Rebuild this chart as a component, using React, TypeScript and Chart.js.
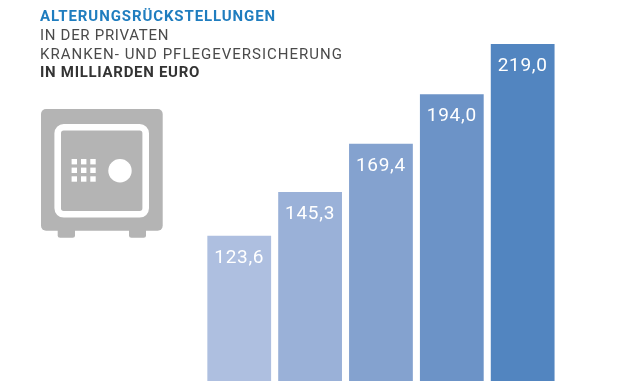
import React, { useEffect, useRef } from "react";
import { Chart, registerables } from "chart.js";

Chart.register(...registerables);

const categories = ["1", "2", "3", "4", "5"];
const values = [123.6, 145.3, 169.4, 194.0, 219.0];
const valueLabels = ["123,6", "145,3", "169,4", "194,0", "219,0"];
const barColors = ["#aebfe0", "#9ab1d8", "#84a2cf", "#6c93c7", "#5285c0"];

const labelPlugin = {
  id: "barLabels",
  afterDatasetsDraw(chart: any) {
    const ctx = chart.ctx;
    const meta = chart.getDatasetMeta(0);
    ctx.save();
    ctx.fillStyle = "#ffffff";
    ctx.font = "400 19px Roboto";
    ctx.letterSpacing = "0.7px";
    ctx.textAlign = "center";
    ctx.textBaseline = "alphabetic";
    meta.data.forEach((bar: any, i: number) => {
      ctx.fillText(valueLabels[i], bar.x, bar.y + 27);
    });
    ctx.restore();
  },
};

function Safe() {
  const g = "#b4b4b4";
  const keyX = [71.6, 81, 90.3];
  const keyY = [159, 167.6, 176.3];
  return (
    <svg width={621} height={381} style={{ position: "absolute", left: 0, top: 0 }}>
      <rect x={57.7} y={225} width={17.3} height={12.7} rx={2.5} fill={g} />
      <rect x={129} y={225} width={17} height={12.7} rx={2.5} fill={g} />
      <rect x={41} y={109} width={121.7} height={121.7} rx={5} fill={g} />
      <rect x={57.7} y={127.3} width={88} height={87} rx={6} fill={g} stroke="#fff" strokeWidth={6.6} />
      <circle cx={120} cy={170.7} r={11.7} fill="#fff" />
      {keyY.map((y) =>
        keyX.map((x) => <rect key={x + "-" + y} x={x} y={y} width={5.4} height={5.4} fill="#fff" />)
      )}
    </svg>
  );
}

const lineStyle: React.CSSProperties = {
  position: "absolute",
  left: 40,
  fontFamily: "Roboto",
  fontSize: 15,
  lineHeight: "19px",
  whiteSpace: "nowrap",
  color: "#4a4a4a",
};

export default function App() {
  const ref = useRef<HTMLCanvasElement>(null);
  useEffect(() => {
    document.body.style.margin = "0";
    const chart = new Chart(ref.current!, {
      type: "bar",
      data: {
        labels: categories,
        datasets: [
          {
            data: values,
            backgroundColor: barColors,
            borderWidth: 0,
            barPercentage: 0.9,
            categoryPercentage: 1,
          },
        ],
      },
      options: {
        responsive: false,
        animation: false,
        layout: { padding: { left: 203.8, right: 62.9, top: 0, bottom: 0 } },
        plugins: { legend: { display: false }, tooltip: { enabled: false } },
        scales: {
          x: { display: false },
          y: { display: false, min: 51.3, max: 240.9 },
        },
      },
      plugins: [labelPlugin],
    });
    return () => chart.destroy();
  }, []);
  return (
    <div style={{ position: "relative", width: 621, height: 381, overflow: "hidden", background: "#fff" }}>
      <canvas ref={ref} width={621} height={381} style={{ position: "absolute", left: 0, top: 0 }} />
      <Safe />
      <div style={{ ...lineStyle, top: 7, fontWeight: 700, color: "#1f7dbf", letterSpacing: "0.9px" }}>ALTERUNGSRÜCKSTELLUNGEN</div>
      <div style={{ ...lineStyle, top: 26, letterSpacing: "0.7px" }}>IN DER PRIVATEN</div>
      <div style={{ ...lineStyle, top: 45, letterSpacing: "1px" }}>KRANKEN- UND PFLEGEVERSICHERUNG</div>
      <div style={{ ...lineStyle, top: 63, fontWeight: 700, color: "#333", letterSpacing: "0.7px" }}>IN MILLIARDEN EURO</div>
    </div>
  );
}
